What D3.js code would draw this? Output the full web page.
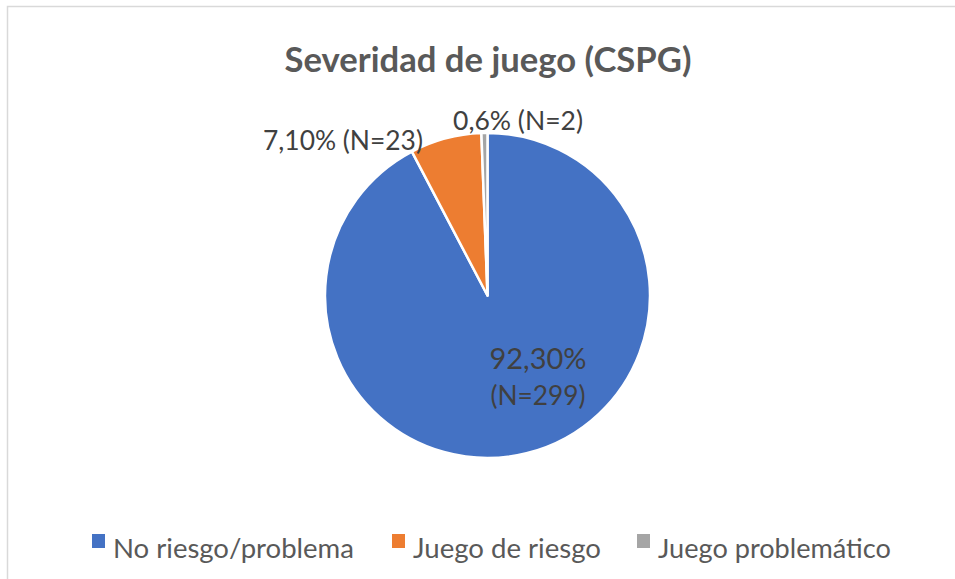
<!DOCTYPE html>
<html><head><meta charset="utf-8">
<script src="https://cdn.jsdelivr.net/npm/d3@7"></script>
<style>body{margin:0;background:#fff;}svg{display:block;}</style>
</head><body>
<svg id="c" width="955" height="579"></svg>
<script>
const categories = ["No riesgo/problema", "Juego de riesgo", "Juego problemático"];
const percents = [92.3, 7.1, 0.6];
const counts = [299, 23, 2];
const dataLabels = [["92,30%", "(N=299)"], ["7,10% (N=23)"], ["0,6% (N=2)"]];
const colors = ["#4472C4", "#ED7D31", "#A5A5A5"];
const title = "Severidad de juego (CSPG)";

const svg = d3.select("#c");
const FONT = "Lato, 'Open Sans', sans-serif";

function fit(sel, target, base) {
  let w = sel.node().getComputedTextLength();
  sel.attr("font-size", base * target / w);
}

svg.append("rect").attr("x", 7.5).attr("y", 6.5).attr("width", 960).attr("height", 600)
  .attr("fill", "#fff").attr("stroke", "#d9d9d9").attr("stroke-width", 1.5);

const t = svg.append("text").attr("x", 488).attr("y", 72).attr("text-anchor", "middle")
  .attr("font-family", FONT).attr("font-weight", "bold").attr("font-size", 29)
  .attr("fill", "#595959").text(title);
fit(t, 407, 29);

const cx = 487.5, cy = 295.5, r = 162.5;
const pie = d3.pie().sort(null).value(d => d)(percents);
const arc = d3.arc().innerRadius(0).outerRadius(r);
const g = svg.append("g").attr("transform", `translate(${cx},${cy})`);
g.selectAll("path").data(pie).join("path")
  .attr("d", arc).attr("fill", (d, i) => colors[i])
  .attr("stroke", "#fff").attr("stroke-width", 2.5).attr("stroke-linejoin", "round");

// data labels
const labelPos = [[538, [357, 395]], [343, [140]], [518, [120]]];
const labelW = [[97, 95], [160], [130]];
dataLabels.forEach((lines, i) => {
  lines.forEach((s, j) => {
    const tx = svg.append("text").attr("x", labelPos[i][0]).attr("y", labelPos[i][1][j])
      .attr("text-anchor", "middle").attr("dominant-baseline", "central")
      .attr("font-family", FONT).attr("font-size", 23).attr("fill", "#404040").text(s);
    fit(tx, labelW[i][j], 23);
  });
});

// legend
const legX = [92, 392, 637];
const legW = [241, 188, 233];
categories.forEach((c, i) => {
  svg.append("rect").attr("x", legX[i]).attr("y", 534).attr("width", 13).attr("height", 14).attr("fill", colors[i]);
  const tx = svg.append("text").attr("x", legX[i] + 21).attr("y", 548)
    .attr("dominant-baseline", "central").attr("y", 547)
    .attr("font-family", FONT).attr("font-size", 23).attr("fill", "#595959").text(c);
  fit(tx, legW[i], 23);
});
</script>
</body></html>
